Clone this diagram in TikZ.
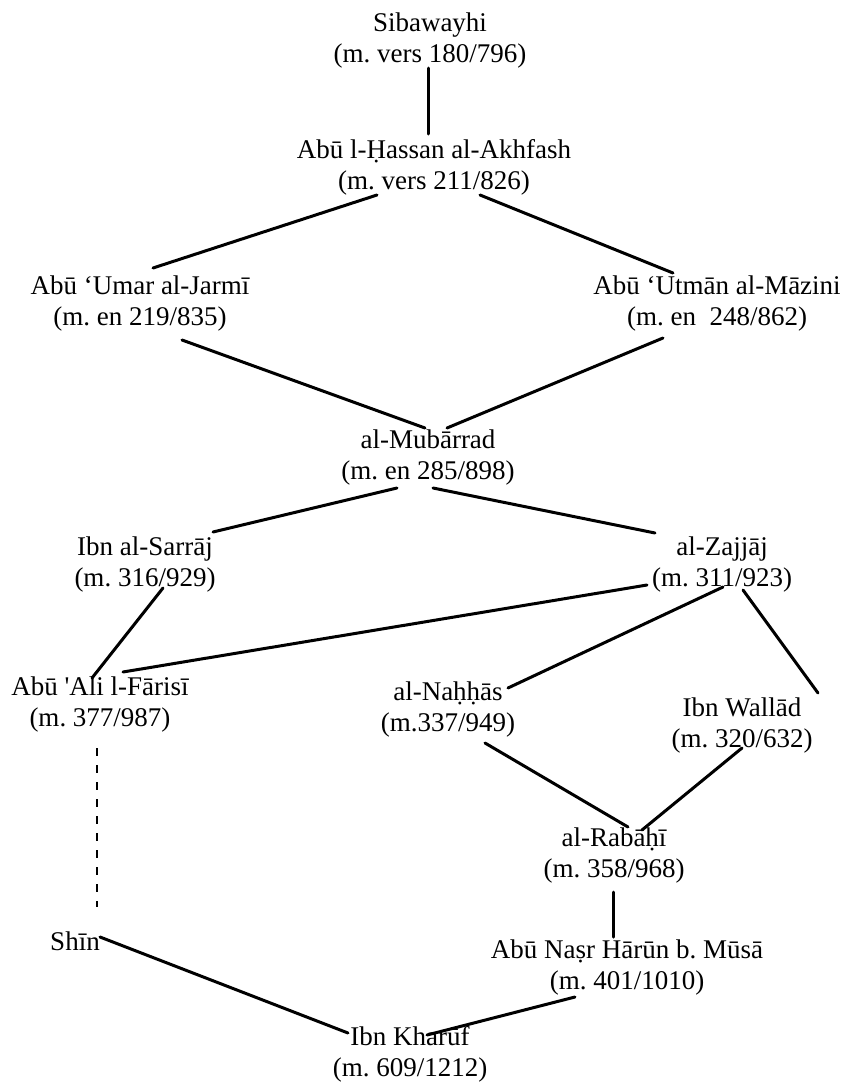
\documentclass[tikz,border=0pt]{standalone}
\usepackage{fontspec}
\setmainfont{Liberation Serif}
\usepackage{tikz}
\frenchspacing
\tikzstyle{every node}=[font=\fontsize{27}{31}\selectfont]
\tikzstyle{every path}=[line width=3pt,line cap=round,line join=round]
\tikzstyle{scholar}=[align=center,inner sep=0pt]
\tikzstyle{lostlink}=[line width=2.8pt,line cap=butt,dash pattern=on 8pt off 9pt]

\begin{document}
\begin{tikzpicture}[x=1pt,y=-1pt]
  \useasboundingbox (0,0) rectangle (842,1090);
  % the masters
  \node[scholar] (siba) at (430,41) {Sibawayhi\\(m. vers 180/796)};
  \node[scholar] (akhfash) at (434,167) {Abū l-Ḥassan al-Akhfash\\(m. vers 211/826)};
  \node[scholar] (jarmi) at (140,304) {Abū ‘Umar al-Jarmī\\(m. en 219/835)};
  \node[scholar] (mazini) at (717,304) {Abū ‘Utmān al-Māzini\\(m. en~ 248/862)};
  \node[scholar] (mubarrad) at (428,457) {al-Mubārrad\\(m. en 285/898)};
  \node[scholar] (sarraj) at (145,564) {Ibn al-Sarrāj\\(m. 316/929)};
  \node[scholar] (zajjaj) at (722,564) {al-Zajjāj\\(m. 311/923)};
  \node[scholar] (farisi) at (100,704) {Abū \textquotesingle Ali l-Fārisī\\(m. 377/987)};
  \node[scholar] (nahhas) at (448,709) {al-Naḥḥās\\(m.337/949)};
  \node[scholar] (wallad) at (742,725) {Ibn Wallād\\(m. 320/632)};
  \node[scholar] (rabahi) at (614,855) {al-Rabāḥī\\(m. 358/968)};
  \node[scholar] (nasr) at (627,967) {Abū Naṣr Hārūn b. Mūsā\\(m. 401/1010)};
  \node[scholar] (shin) at (75,941) {Shīn};
  \node[scholar] (kharuf) at (410,1054) {Ibn Kharūf\\(m. 609/1212)};

  % teacher -- pupil
  \draw ([shift={(-2,27)}]siba.center) -- ([shift={(-6,-33)}]akhfash.center);
  \draw ([shift={(-57,28)}]akhfash.center) -- ([shift={(13,-36)}]jarmi.center);
  \draw ([shift={(46,28)}]akhfash.center) -- ([shift={(-44,-31)}]mazini.center);
  \draw ([shift={(42,36)}]jarmi.center) -- ([shift={(-3,-29)}]mubarrad.center);
  \draw ([shift={(-54,34)}]mazini.center) -- ([shift={(19,-29)}]mubarrad.center);
  \draw ([shift={(-31,31)}]mubarrad.center) -- ([shift={(68,-32)}]sarraj.center);
  \draw ([shift={(5,31)}]mubarrad.center) -- ([shift={(-67,-31)}]zajjaj.center);
  \draw ([shift={(18,24)}]sarraj.center) -- ([shift={(-8,-26)}]farisi.center);
  \draw ([shift={(-75,21)}]zajjaj.center) -- ([shift={(23,-32)}]farisi.center);
  \draw ([shift={(1,23)}]zajjaj.center) -- ([shift={(60,-21)}]nahhas.center);
  \draw ([shift={(21,26)}]zajjaj.center) -- ([shift={(76,-32)}]wallad.center);
  \draw ([shift={(37,34)}]nahhas.center) -- ([shift={(14,-28)}]rabahi.center);
  \draw ([shift={(0,23)}]wallad.center) -- ([shift={(28,-25)}]rabahi.center);
  \draw ([shift={(-1,37)}]rabahi.center) -- ([shift={(-14,-30)}]nasr.center);
  \draw[lostlink] ([shift={(-3,44)}]farisi.center) -- ([shift={(22,-34)}]shin.center);
  \draw ([shift={(25,-4)}]shin.center) -- ([shift={(-62,-21)}]kharuf.center);
  \draw ([shift={(-52,30)}]nasr.center) -- ([shift={(17,-19)}]kharuf.center);
\end{tikzpicture}
\end{document}
